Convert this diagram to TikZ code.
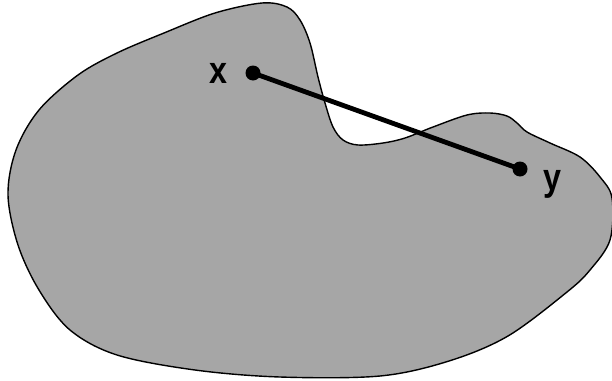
\documentclass[tikz,border=0pt]{standalone}
\usepackage{fontspec}
\setmainfont{Liberation Sans}
\definecolor{blobgray}{HTML}{A6A6A6}
\tikzset{
  blob/.style={fill=blobgray, draw=black, line width=1.4pt},
  dotnode/.style={circle, fill=black, minimum size=15pt, inner sep=0pt},
  lbl/.style={inner sep=0pt, anchor=base, font=\fontsize{38}{38}\selectfont\bfseries, xscale=0.85},
  seg/.style={line width=4.8pt}
}
\begin{document}
\begin{tikzpicture}[x=1pt,y=-1pt]
\useasboundingbox (0,0) rectangle (612,380);
\begin{scope}
\clip (0,0) rectangle (612,380);
\draw[blob] plot[smooth cycle, tension=0.55] coordinates {
 (262,3) (287,7) (300,20) (310,43) (318,77) (325,103) (333,127) (343,140)
 (358,145) (383,143) (405,138) (433,127) (467,115) (490,113) (507,116)
 (517,123) (527,132) (550,143) (580,157) (600,177) (612,198) (610,240)
 (590,270) (567,292) (508,336) (449,361) (380,376) (280,377) (195,370)
 (117,355) (70,330) (39,290) (18,245) (8,195) (16,150) (39,110) (78,75)
 (117,53) (164,33) (215,13)
};
\end{scope}
\node[dotnode] (x) at (253,73) {};
\node[dotnode] (y) at (520,169) {};
\draw[seg] (x.center) -- (y.center);
\node[lbl] (xl) at (218.5,83) {x};
\node[lbl] (yl) at (552.5,190) {y};
\end{tikzpicture}
\end{document}
